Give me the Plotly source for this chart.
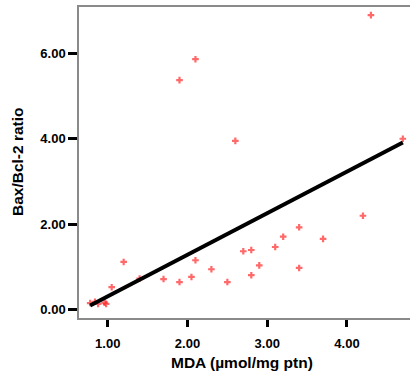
import numpy as np
import plotly.graph_objects as go

mda = [4.3, 2.1, 1.9, 2.6, 4.7, 4.2, 3.4, 3.7, 3.2, 3.1, 2.8, 2.7, 2.9, 2.8, 3.4,
       2.1, 2.3, 2.05, 1.9, 2.5, 1.7, 1.2, 1.4, 1.05, 0.78, 0.84, 0.88, 0.96, 0.98]
ratio = [6.89, 5.86, 5.37, 3.95, 4.0, 2.2, 1.93, 1.66, 1.71, 1.47, 1.40, 1.37, 1.04, 0.81, 0.98,
         1.16, 0.95, 0.77, 0.65, 0.65, 0.72, 1.12, 0.73, 0.53, 0.16, 0.19, 0.14, 0.17, 0.14]

# fit line as drawn in the reference
fit_slope = 0.972
fit_intercept = -0.658

x_ticks = [1, 2, 3, 4]
x_tick_labels = ["1.00", "2.00", "3.00", "4.00"]
y_ticks = [0, 2, 4, 6]
y_tick_labels = ["0.00", "2.00", "4.00", "6.00"]

fit_x = np.linspace(min(mda), max(mda), 60)
fit_y = fit_slope * fit_x + fit_intercept

font = "Liberation Sans, Arial, sans-serif"
W, H = 410, 373
L, R, T, B = 79, 0, 7, 55
pw, ph = W - L - R, H - T - B

fig = go.Figure()
fig.add_trace(go.Scatter(x=mda, y=ratio, mode="markers", cliponaxis=False,
                         marker=dict(symbol="cross", size=5.5, color="rgba(255,25,25,0.65)",
                                     line=dict(width=0)),
                         showlegend=False))
fig.add_trace(go.Scatter(x=fit_x, y=fit_y, mode="lines", cliponaxis=False,
                         line=dict(color="black", width=4), showlegend=False))

fig.update_layout(
    width=W, height=H,
    margin=dict(l=L, r=R, t=T, b=B, autoexpand=False),
    plot_bgcolor="white", paper_bgcolor="white",
    font=dict(family=font, color="black"),
    annotations=[
        dict(text="<b>MDA (µmol/mg ptn)</b>", x=(242 - L) / pw, y=((H - 362) - B) / ph,
             xref="paper", yref="paper", xanchor="center", yanchor="middle",
             showarrow=False, font=dict(size=15.5, family=font)),
        dict(text="<b>Bax/Bcl-2 ratio</b>", x=(17 - L) / pw, y=((H - 162) - B) / ph,
             xref="paper", yref="paper", xanchor="center", yanchor="middle",
             showarrow=False, textangle=-90, font=dict(size=15.5, family=font)),
    ],
)

fig.update_xaxes(range=[0.64, 4.79], tickvals=x_ticks, ticktext=x_tick_labels, automargin=False,
                 showgrid=False, zeroline=False, showline=True, linecolor="#8a8a8a", linewidth=1.5,
                 mirror=True, ticks="outside", ticklen=7, tickwidth=3, tickcolor="black",
                 ticklabelstandoff=6,
                 tickfont=dict(size=13, family=font, weight="bold"))
fig.update_yaxes(range=[-0.19, 7.08], tickvals=y_ticks, ticktext=y_tick_labels, automargin=False,
                 showgrid=False, zeroline=False, showline=True, linecolor="#8a8a8a", linewidth=1.5,
                 mirror=True, ticks="outside", ticklen=9, tickwidth=3, tickcolor="black",
                 tickfont=dict(size=13, family=font, weight="bold"))

fig.write_html("out.html", config={"displayModeBar": False},
               post_script="document.body.style.margin='0';document.body.style.overflow='hidden';")
